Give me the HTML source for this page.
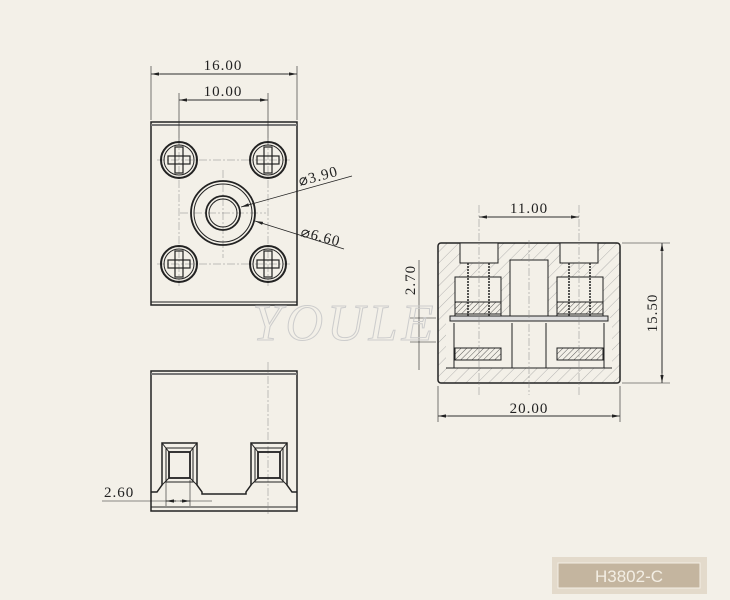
<!DOCTYPE html>
<html><head><style>
html,body{margin:0;padding:0;background:#f3f0e8;}
svg{display:block}
text{font-family:"Liberation Serif",serif;fill:#222;}
</style></head><body>
<svg width="730" height="600" viewBox="0 0 730 600" xmlns="http://www.w3.org/2000/svg">
<defs>
<pattern id="h" width="8" height="8" patternUnits="userSpaceOnUse" patternTransform="rotate(45)">
<line x1="0" y1="0" x2="0" y2="8" stroke="#999" stroke-width="0.7"/></pattern>
<pattern id="h2" width="4" height="4" patternUnits="userSpaceOnUse" patternTransform="rotate(45)">
<line x1="0" y1="0" x2="0" y2="4" stroke="#333" stroke-width="0.8"/></pattern>
<marker id="a" markerWidth="10" markerHeight="6" refX="10" refY="3" orient="auto"><path d="M0,1 L10,3 L0,5 z" fill="#222"/></marker>
<g id="scr">
<circle r="18" fill="none" stroke="#222" stroke-width="2"/>
<circle r="15" fill="none" stroke="#222" stroke-width="1"/>
<rect x="-4" y="-13" width="8" height="26" fill="none" stroke="#222" stroke-width="1.2"/>
<rect x="-11" y="-4" width="22" height="8" fill="none" stroke="#222" stroke-width="1.2"/>
</g>
</defs>
<g stroke="#222" fill="none" stroke-width="1">
<!-- top view -->
<rect x="151" y="122" width="146" height="183" stroke-width="1.5"/>
<line x1="151" y1="125" x2="297" y2="125" stroke="#777" stroke-width="2"/>
<line x1="151" y1="302" x2="297" y2="302"/>
<line x1="151" y1="66" x2="151" y2="120" stroke-width="0.6"/>
<line x1="297" y1="66" x2="297" y2="120" stroke-width="0.6"/>
<line x1="160" y1="74" x2="297" y2="74" marker-end="url(#a)" stroke-width="0.8"/>
<line x1="288" y1="74" x2="151" y2="74" marker-end="url(#a)" stroke-width="0.8"/>
<line x1="179" y1="93" x2="179" y2="145" stroke-width="0.6"/>
<line x1="268" y1="93" x2="268" y2="145" stroke-width="0.6"/>
<line x1="188" y1="100" x2="268" y2="100" marker-end="url(#a)" stroke-width="0.8"/>
<line x1="260" y1="100" x2="179" y2="100" marker-end="url(#a)" stroke-width="0.8"/>
<g stroke="#888" stroke-width="0.5" stroke-dasharray="8 2 2 2">
<line x1="223" y1="170" x2="223" y2="258"/><line x1="180" y1="213" x2="266" y2="213"/>
<line x1="179" y1="138" x2="179" y2="286"/><line x1="268" y1="138" x2="268" y2="286"/>
<line x1="157" y1="160" x2="290" y2="160"/><line x1="157" y1="264" x2="290" y2="264"/>
</g>
<use href="#scr" x="179" y="160"/><use href="#scr" x="268" y="160"/>
<use href="#scr" x="179" y="264"/><use href="#scr" x="268" y="264"/>
<circle cx="223" cy="213" r="32" stroke-width="1.8"/>
<circle cx="223" cy="213" r="29"/>
<circle cx="223" cy="213" r="17" stroke-width="1.8"/>
<circle cx="223" cy="213" r="14"/>
<line x1="352" y1="176" x2="241" y2="207" marker-end="url(#a)" stroke-width="0.8"/>
<line x1="344" y1="249" x2="255" y2="221" marker-end="url(#a)" stroke-width="0.8"/>
<!-- bottom view -->
<rect x="151" y="371" width="146" height="140" stroke-width="1.5"/>
<line x1="151" y1="374" x2="297" y2="374" stroke="#777" stroke-width="2"/>
<line x1="151" y1="507" x2="297" y2="507"/>
<line x1="268" y1="362" x2="268" y2="515" stroke="#888" stroke-width="0.5" stroke-dasharray="8 2 2 2"/>
<path d="M151,492 L157,492 L162,485 L162,443 L197,443 L197,485 L202,492 L202,494 L246,494 L246,492 L251,485 L251,443 L287,443 L287,485 L292,492 L297,492" stroke-width="1.5"/>
<rect x="166" y="448" width="27" height="34"/><rect x="169" y="452" width="21" height="26" stroke-width="1.8"/>
<line x1="162" y1="443" x2="169" y2="452"/><line x1="197" y1="443" x2="190" y2="452"/><line x1="162" y1="485" x2="169" y2="478"/><line x1="197" y1="485" x2="190" y2="478"/>
<rect x="255" y="448" width="28" height="34"/><rect x="258" y="452" width="22" height="26" stroke-width="1.8"/>
<line x1="251" y1="443" x2="258" y2="452"/><line x1="287" y1="443" x2="280" y2="452"/><line x1="251" y1="485" x2="258" y2="478"/><line x1="287" y1="485" x2="280" y2="478"/>
<line x1="166" y1="480" x2="166" y2="506" stroke-width="0.6"/><line x1="190" y1="480" x2="190" y2="506" stroke-width="0.6"/>
<line x1="102" y1="501" x2="212" y2="501" stroke-width="0.6"/>
<line x1="176" y1="501" x2="166" y2="501" marker-end="url(#a)" stroke-width="0.8"/>
<line x1="180" y1="501" x2="190" y2="501" marker-end="url(#a)" stroke-width="0.8"/>
<!-- side section -->
<rect x="438" y="243" width="182" height="140" rx="3" fill="url(#h)" stroke-width="1.5"/>
<rect x="446" y="318" width="166" height="50" fill="#f3f0e8" stroke="none"/>
<rect x="460" y="243" width="38" height="20" fill="#f3f0e8"/><rect x="560" y="243" width="38" height="20" fill="#f3f0e8"/>
<rect x="510" y="260" width="38" height="60" fill="#f3f0e8"/>
<rect x="455" y="277" width="46" height="40" fill="#f3f0e8"/><rect x="557" y="277" width="46" height="40" fill="#f3f0e8"/>
<rect x="455" y="302" width="46" height="12" fill="url(#h2)"/><rect x="557" y="302" width="46" height="12" fill="url(#h2)"/>
<rect x="455" y="348" width="46" height="12" fill="url(#h2)"/><rect x="557" y="348" width="46" height="12" fill="url(#h2)"/>
<line x1="468" y1="263" x2="468" y2="318" stroke-dasharray="2 1" stroke-width="1.5"/>
<line x1="489" y1="263" x2="489" y2="318" stroke-dasharray="2 1" stroke-width="1.5"/>
<line x1="569" y1="263" x2="569" y2="318" stroke-dasharray="2 1" stroke-width="1.5"/>
<line x1="590" y1="263" x2="590" y2="318" stroke-dasharray="2 1" stroke-width="1.5"/>
<rect x="450" y="316" width="158" height="5" fill="#ddd"/>
<line x1="454" y1="323" x2="454" y2="368"/><line x1="604" y1="323" x2="604" y2="368"/>
<line x1="512" y1="323" x2="512" y2="368"/><line x1="546" y1="323" x2="546" y2="368"/>
<line x1="446" y1="368" x2="612" y2="368"/>
<line x1="479" y1="205" x2="479" y2="395" stroke="#888" stroke-width="0.5" stroke-dasharray="8 2 2 2"/>
<line x1="579" y1="205" x2="579" y2="395" stroke="#888" stroke-width="0.5" stroke-dasharray="8 2 2 2"/>
<line x1="529" y1="240" x2="529" y2="395" stroke="#888" stroke-width="0.5" stroke-dasharray="8 2 2 2"/>
<line x1="488" y1="217" x2="579" y2="217" marker-end="url(#a)" stroke-width="0.8"/>
<line x1="570" y1="217" x2="479" y2="217" marker-end="url(#a)" stroke-width="0.8"/>
<line x1="438" y1="386" x2="438" y2="422" stroke-width="0.6"/><line x1="620" y1="386" x2="620" y2="422" stroke-width="0.6"/>
<line x1="448" y1="416" x2="620" y2="416" marker-end="url(#a)" stroke-width="0.8"/>
<line x1="610" y1="416" x2="438" y2="416" marker-end="url(#a)" stroke-width="0.8"/>
<line x1="622" y1="243" x2="670" y2="243" stroke-width="0.6"/><line x1="622" y1="383" x2="670" y2="383" stroke-width="0.6"/>
<line x1="662" y1="253" x2="662" y2="383" marker-end="url(#a)" stroke-width="0.8"/>
<line x1="662" y1="373" x2="662" y2="243" marker-end="url(#a)" stroke-width="0.8"/>
<line x1="419" y1="260" x2="419" y2="370" stroke-width="0.6"/>
<line x1="410" y1="318" x2="436" y2="318" stroke-width="0.6"/><line x1="410" y1="342" x2="436" y2="342" stroke-width="0.6"/>
</g>
<text x="223" y="70" font-size="15" text-anchor="middle" letter-spacing="1">16.00</text>
<text x="223" y="96" font-size="15" text-anchor="middle" letter-spacing="1">10.00</text>
<text x="300" y="186" font-size="15" transform="rotate(-15 300 186)" letter-spacing="1">⌀3.90</text>
<text x="300" y="236" font-size="15" transform="rotate(15 300 236)" letter-spacing="1">⌀6.60</text>
<text x="104" y="497" font-size="15" letter-spacing="1">2.60</text>
<text x="529" y="213" font-size="15" text-anchor="middle" letter-spacing="1">11.00</text>
<text x="529" y="413" font-size="15" text-anchor="middle" letter-spacing="1">20.00</text>
<text x="0" y="0" font-size="15" text-anchor="middle" letter-spacing="1" transform="translate(657 313) rotate(-90)">15.50</text>
<text x="0" y="0" font-size="15" text-anchor="middle" letter-spacing="1" transform="translate(415 280) rotate(-90)">2.70</text>
<text x="345" y="340" font-size="52" font-style="italic" font-family="Liberation Sans" text-anchor="middle" fill="none" stroke="#ccc" stroke-width="1" style="fill:none" letter-spacing="4">YOULE</text>
<rect x="552" y="557" width="155" height="37" fill="#e3dacb"/>
<rect x="558" y="563" width="142" height="25" fill="#c4b59f" stroke="#f3eee4" stroke-width="1"/>
<text x="629" y="582" font-size="17" text-anchor="middle" style="fill:#f3eee4;font-family:'Liberation Sans',sans-serif">H3802-C</text>
</svg>
</body></html>
